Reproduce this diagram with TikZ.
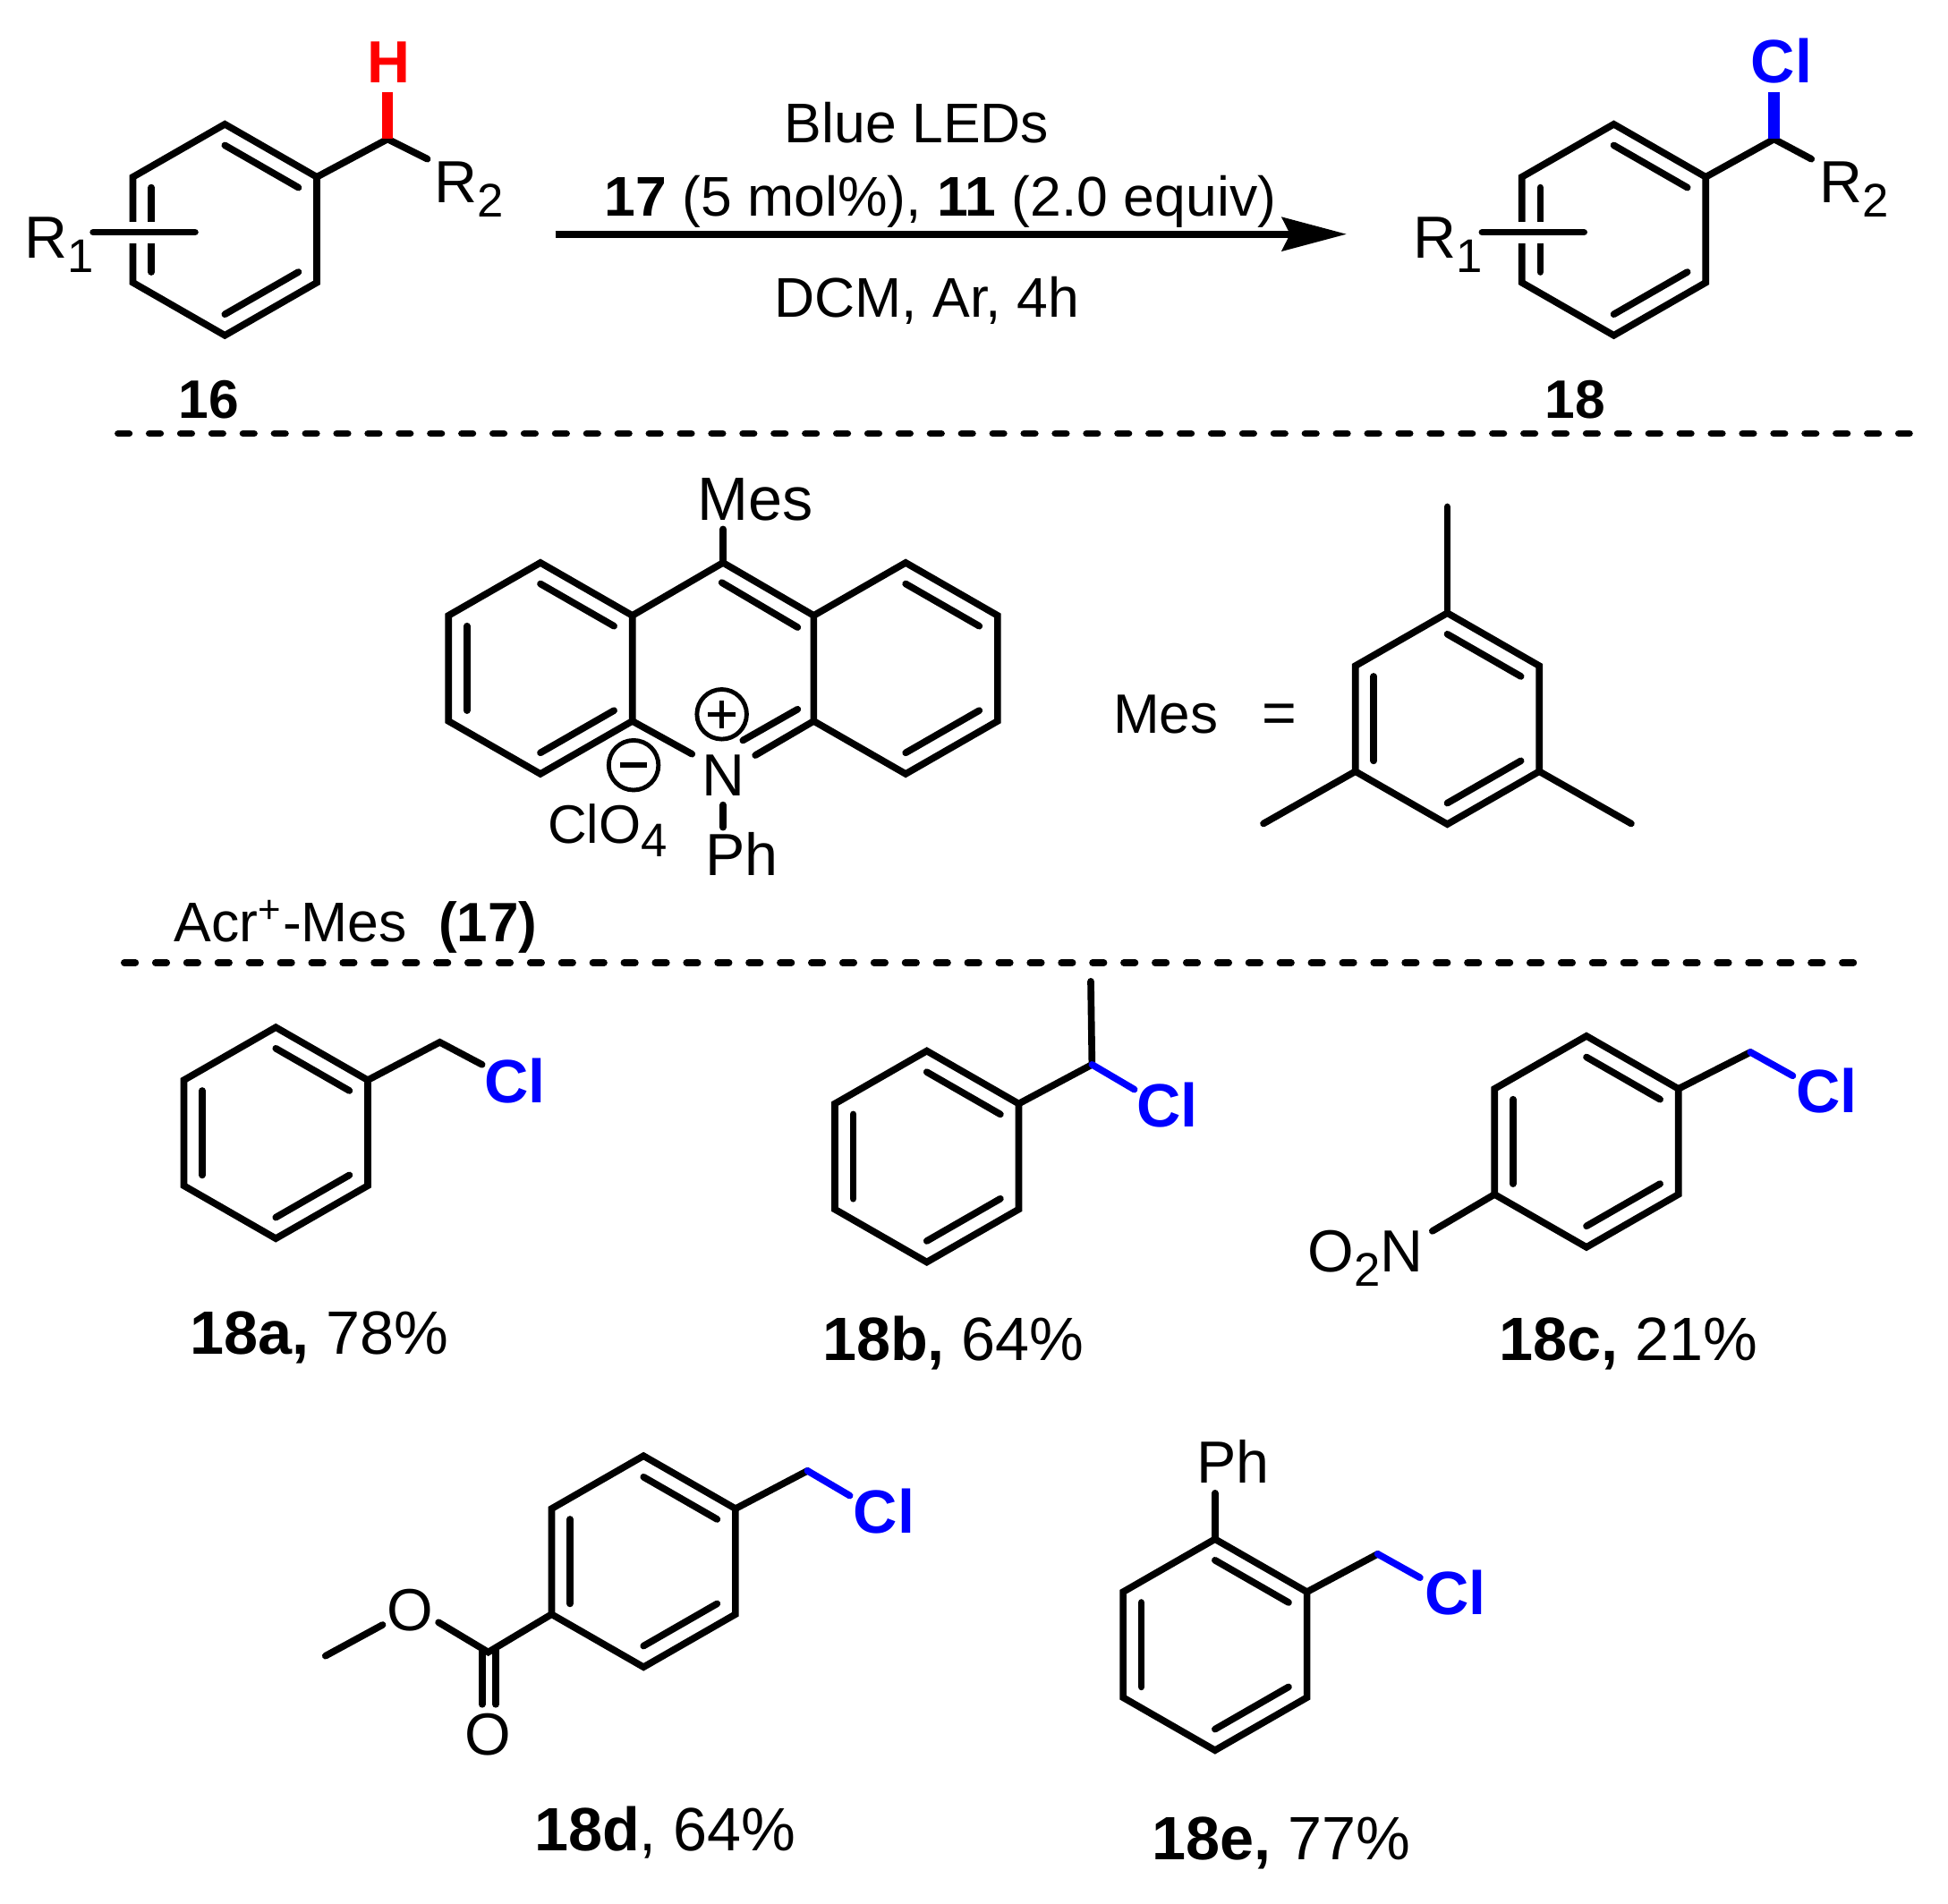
\documentclass[tikz,border=0pt]{standalone}
\usepackage{fontspec}
\setmainfont{Liberation Sans}
\usetikzlibrary{calc,arrows.meta}
\definecolor{chemred}{RGB}{255,0,0}
\definecolor{chemblue}{RGB}{0,0,255}
\newcommand\chemsub[1]{\raisebox{-0.24em}{\fontsize{10.8}{11}\selectfont #1}}
\newcommand\benzring[3]{%
  \coordinate (#1o) at (#2,#3);
  \coordinate (#1a) at (#2,#3-85);
  \coordinate (#1b) at (#2+74,#3-42.5);
  \coordinate (#1c) at (#2+74,#3+42.5);
  \coordinate (#1d) at (#2,#3+85);
  \coordinate (#1e) at (#2-74,#3+42.5);
  \coordinate (#1f) at (#2-74,#3-42.5);
  \draw[bond] (#1a)--(#1b)--(#1c)--(#1d)--(#1e)--(#1f)--cycle;}
\newcommand\innerbond[3]{\draw[bond] ($(#1o)!0.8!(#1#2)$) -- ($(#1o)!0.8!(#1#3)$);}
\newcommand\threedbl[1]{\innerbond{#1}{a}{b}\innerbond{#1}{c}{d}\innerbond{#1}{e}{f}}
\tikzset{
  bond/.style={line width=0.055cm,line cap=round,line join=miter,black},
  bluebond/.style={bond,chemblue},
  thickred/.style={line width=0.09cm,chemred},
  thickblue/.style={line width=0.09cm,chemblue},
  sep/.style={line width=0.055cm,line cap=round,dash pattern=on 0.09cm off 0.1613cm},
  lab/.style={inner sep=0,outer sep=0,anchor=base west,font=\fontsize{13.6}{16}\selectfont},
  labc/.style={lab,anchor=base},
  cond/.style={labc,font=\fontsize{12.8}{15}\selectfont},
  res/.style={lab,font=\fontsize{14}{16}\selectfont},
  cmpd/.style={labc,font=\fontsize{12.4}{15}\selectfont\bfseries},
  redlab/.style={labc,text=chemred,font=\fontsize{13.6}{16}\selectfont\bfseries},
  cl/.style={lab,text=chemblue,font=\fontsize{14}{16}\selectfont\bfseries},
  chg/.style={circle,draw,line width=0.035cm,minimum size=0.4cm,inner sep=0},
  chgmark/.style={line width=0.04cm}
}
\begin{document}
\begin{tikzpicture}[x=0.01cm,y=-0.01cm]
\useasboundingbox[fill=white] (0,0) rectangle (1568,1532.7);
% ---- substrate 16
\benzring{p}{181}{185}
\threedbl{p}
\coordinate (pC) at (312,112);
\coordinate (pRb) at (344,128);
\coordinate (pHb) at (312,74);
\node[lab] (pR2) at (350,163) {R\chemsub{2}};
\node[lab] (pR1) at (20,208) {R\chemsub{1}};
\node[redlab] (pH) at (313,67) {H};
\draw[bond] (pb)--(pC)--(pRb);
\draw[thickred] (pC)--(pHb);
\fill[white] (98,179) rectangle (130,196);
\coordinate (psA) at (75,187); \coordinate (psB) at (157,187);
\draw[bond] (psA)--(psB);
\node[cmpd] (n16) at (168,337) {16};
% ---- arrow
\coordinate (arA) at (447,188.5); \coordinate (arB) at (1084,188.5);
\draw[line width=0.055cm,-{Stealth[length=0.52cm,width=0.27cm,inset=0.065cm]}] (arA)--(arB);
\node[cond] (cond1) at (738,115) {Blue LEDs};
\node[cond] (cond2) at (757,174) {\textbf{17} (5 mol\%), \textbf{11} (2.0 equiv)};
\node[cond] (cond3) at (746,255) {DCM, Ar, 4h};
% ---- product 18
\benzring{q}{1299}{185}
\threedbl{q}
\coordinate (qC) at (1428,112);
\coordinate (qRb) at (1458,128);
\coordinate (qXb) at (1428,74);
\node[lab] (qR2) at (1465,163) {R\chemsub{2}};
\node[lab] (qR1) at (1138,208) {R\chemsub{1}};
\node[labc,text=chemblue,font=\fontsize{14}{16}\selectfont\bfseries] (qCl) at (1434,67) {Cl};
\draw[bond] (qb)--(qC)--(qRb);
\draw[thickblue] (qC)--(qXb);
\fill[white] (1216,179) rectangle (1248,196);
\coordinate (qsA) at (1193,187); \coordinate (qsB) at (1275,187);
\draw[bond] (qsA)--(qsB);
\node[cmpd] (n18) at (1268,337) {18};
% ---- separators
\coordinate (s1A) at (95,349); \coordinate (s1B) at (1537,349);
\draw[sep] (s1A)--(s1B);
\coordinate (s2A) at (100,775); \coordinate (s2B) at (1492,775);
\draw[sep] (s2A)--(s2B);
% ---- acridinium
\benzring{l}{435}{538}
\threedbl{l}
\benzring{r}{729}{538}
\innerbond{r}{a}{b}\innerbond{r}{c}{d}
\coordinate (ma) at (582,453);
\coordinate (mi1) at (581,469); \coordinate (mi2) at (642,505);
\coordinate (mi3) at (642,571); \coordinate (mi4) at (598,596);
\coordinate (mN1) at (557,607);
\coordinate (mN2) at (608,608);
\coordinate (mes) at (582,426);
\draw[bond] (lb)--(ma)--(rf);
\draw[bond] (lc)--(mN1);
\draw[bond] (re)--(mN2);
\draw[bond] (mi1)--(mi2);
\draw[bond] (mi3)--(mi4);
\draw[bond] (ma)--(mes);
\node[labc,font=\fontsize{14}{16}\selectfont] (nMes) at (608,419) {Mes};
\node[labc] (nN) at (582,641) {N};
\coordinate (nPa) at (582,648); \coordinate (nPb) at (582,666);
\draw[bond] (nPa)--(nPb);
\node[lab] (nPh) at (568,705) {Ph};
\node[lab,font=\fontsize{12.4}{15}\selectfont] (nClO) at (441,679) {ClO\chemsub{4}};
\node[chg] (plus) at (581,575) {};
\draw[chgmark] ($(plus)+(-11,0)$)--($(plus)+(11,0)$) ($(plus)+(0,-11)$)--($(plus)+(0,11)$);
\node[chg] (minus) at (510,616) {};
\draw[chgmark] ($(minus)+(-11,0)$)--($(minus)+(11,0)$);
\node[lab,font=\fontsize{12.8}{15}\selectfont] (acr) at (140,758) {Acr\textsuperscript{+}-Mes};
\node[lab,font=\fontsize{12.7}{15}\selectfont\bfseries] (acr17) at (353,758) {(17)};
% ---- Mes =
\node[lab,font=\fontsize{12.7}{15}\selectfont] (mesDef) at (896,590) {Mes};
\node[lab] (mesEq) at (1016,590) {=};
\benzring{t}{1165}{578.5}
\threedbl{t}
\coordinate (t1) at (1165,408); \coordinate (t2) at (1313,663); \coordinate (t3) at (1017,663);
\draw[bond] (ta)--(t1);
\draw[bond] (tc)--(t2);
\draw[bond] (te)--(t3);
% ---- 18a
\benzring{A}{222}{912}
\threedbl{A}
\coordinate (Ach) at (354,839); \coordinate (Axb) at (388,857);
\draw[bond] (Ab)--(Ach)--(Axb);
\node[cl] (ACl) at (390,888) {Cl};
\node[res] (Alab) at (153,1090) {\textbf{18a,} 78\%};
% ---- 18b
\benzring{B}{746}{931}
\threedbl{B}
\coordinate (Bch) at (879,857); \coordinate (Bxb) at (913,877); \coordinate (Bme) at (878,790);
\draw[bond] (Bb)--(Bch)--(Bme);
\draw[bluebond] (Bch)--(Bxb);
\node[cl] (BCl) at (915,907) {Cl};
\node[res] (Blab) at (662,1095) {\textbf{18b,} 64\%};
% ---- 18c
\benzring{C}{1277}{919}
\threedbl{C}
\coordinate (Cch) at (1409,847); \coordinate (Cxb) at (1443,866); \coordinate (Cnb) at (1153,991);
\draw[bond] (Cb)--(Cch);
\draw[bluebond] (Cch)--(Cxb);
\draw[bond] (Ce)--(Cnb);
\node[cl] (CCl) at (1446,896) {Cl};
\node[lab] (CNO) at (1053,1024) {O\chemsub{2}N};
\node[res] (Clab) at (1207,1095) {\textbf{18c,} 21\%};
% ---- 18d
\benzring{D}{518}{1257}
\threedbl{D}
\coordinate (Dch) at (650,1184); \coordinate (Dxb) at (684,1204);
\draw[bond] (Db)--(Dch);
\draw[bluebond] (Dch)--(Dxb);
\node[cl] (DCl) at (687,1234) {Cl};
\coordinate (Dco) at (393,1330);
\coordinate (Dob) at (353,1306);
\coordinate (Dm1) at (308,1308); \coordinate (Dm2) at (262,1333);
\coordinate (Dk1) at (388,1328); \coordinate (Dk2) at (388,1372);
\coordinate (Dk3) at (399,1328); \coordinate (Dk4) at (399,1372);
\draw[bond] (De)--(Dco)--(Dob);
\draw[bond] (Dm1)--(Dm2);
\draw[bond] (Dk1)--(Dk2);
\draw[bond] (Dk3)--(Dk4);
\node[labc] (DO1) at (330,1313) {O};
\node[labc] (DO2) at (393,1413) {O};
\node[res] (Dlab) at (430,1490) {\textbf{18d}, 64\%};
% ---- 18e
\benzring{E}{978}{1324}
\threedbl{E}
\coordinate (Ech) at (1109,1251); \coordinate (Exb) at (1143,1270); \coordinate (Eph) at (978,1202);
\draw[bond] (Eb)--(Ech);
\draw[bluebond] (Ech)--(Exb);
\draw[bond] (Ea)--(Eph);
\node[cl] (ECl) at (1147,1300) {Cl};
\node[lab] (EPh) at (963,1194) {Ph};
\node[res] (Elab) at (927,1497) {\textbf{18e,} 77\%};
\end{tikzpicture}
\end{document}
